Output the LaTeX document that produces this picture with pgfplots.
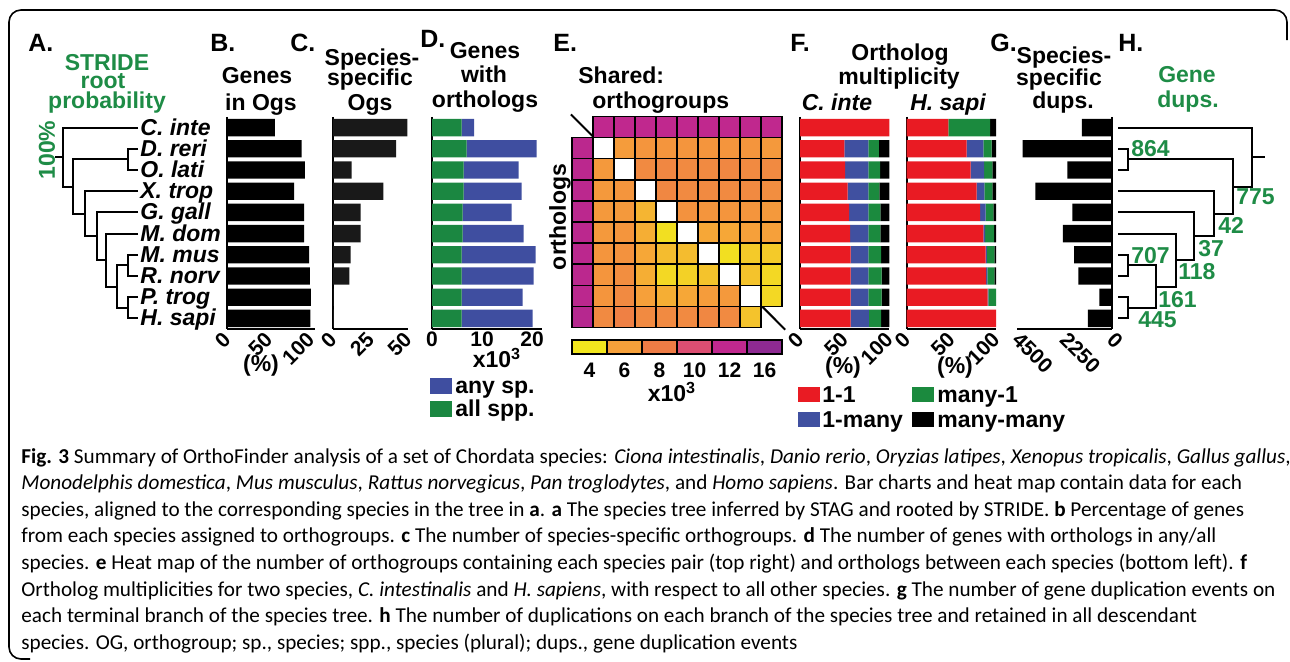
\documentclass[border=0pt]{standalone}
\usepackage{pgfplots}
\pgfplotsset{compat=1.18}
\usepackage{fontspec}
\setmainfont{Liberation Sans}
\newfontfamily\capfont{Carlito}
\newcommand{\tf}{\bfseries\fontsize{11.5}{13}\selectfont}
\newcommand{\kf}{\bfseries\fontsize{10.5}{12}\selectfont}
\newcommand{\lf}{\bfseries\fontsize{12.5}{14}\selectfont}
\newcommand{\itf}{\bfseries\itshape\fontsize{11.5}{13}\selectfont}
\newcommand{\cf}{\capfont\fontsize{10.6}{12}\selectfont}
\definecolor{tgreen}{RGB}{30,140,70}
\definecolor{bblue}{RGB}{63,78,160}
\definecolor{bgreen}{RGB}{27,135,65}
\definecolor{fred}{RGB}{233,27,35}
\definecolor{fblue}{RGB}{64,80,160}
\definecolor{fgreen}{RGB}{27,138,62}
\definecolor{h1}{RGB}{242,230,30}
\definecolor{h2}{RGB}{246,160,58}
\definecolor{h3}{RGB}{238,124,69}
\definecolor{h4}{RGB}{221,78,114}
\definecolor{h5}{RGB}{192,40,142}
\definecolor{h6}{RGB}{142,42,146}
\pgfplotsset{
 barax/.style={anchor=north west, scale only axis, height=106pt,
   ymin=-0.5, ymax=9.5, y dir=reverse, ytick=\empty,
   axis x line*=bottom, axis y line*=left,
   axis line style={line width=1pt,-},
   xbar stacked, bar width=0.82,
   xtick style={draw=none}, clip=false},
 rot/.style={xticklabel style={xshift=0pt, yshift=-3.5pt, rotate=45, anchor=east, inner sep=0pt, font=\kf}},
}
\begin{document}
\begin{tikzpicture}
% ---------------- overlay axis (pixel coordinates) ----------------
\begin{axis}[at={(0pt,0pt)}, anchor=north west, scale only axis, width=645pt, height=331pt,
  xmin=0, xmax=1290, ymin=0, ymax=662, y dir=reverse, axis lines=none, clip=false]
% frame
\draw[line width=0.8pt, rounded corners=6pt] (axis cs:30,659) -- (axis cs:9,659) -- (axis cs:9,10) -- (axis cs:1287,10) -- (axis cs:1287,40);
% tree A
\addplot[black, line width=1pt] coordinates {(138,148.7) (128,148.7) (128,169.9) (138,169.9)};
\addplot[black, line width=1pt] coordinates {(138,254.7) (128,254.7) (128,275.9) (138,275.9)};
\addplot[black, line width=1pt] coordinates {(138,297.1) (128,297.1) (128,318.3) (138,318.3)};
\addplot[black, line width=1pt] coordinates {(128,265.3) (117,265.3) (117,307.7) (128,307.7)};
\addplot[black, line width=1pt] coordinates {(138,233.5) (106,233.5) (106,286.5) (117,286.5)};
\addplot[black, line width=1pt] coordinates {(138,212.3) (97,212.3) (97,260) (106,260)};
\addplot[black, line width=1pt] coordinates {(138,191.1) (85,191.1) (85,236.2) (97,236.2)};
\addplot[black, line width=1pt] coordinates {(128,159.3) (73,159.3) (73,213.6) (85,213.6)};
\addplot[black, line width=1pt] coordinates {(138,127.5) (63,127.5) (63,186.5) (73,186.5)};
\addplot[black, line width=1pt] coordinates {(63,157) (55,157)};
% tree H
\addplot[black, line width=1pt] coordinates {(1118,148.7) (1128,148.7) (1128,169.9) (1118,169.9)};
\addplot[black, line width=1pt] coordinates {(1118,254.7) (1128,254.7) (1128,275.9) (1118,275.9)};
\addplot[black, line width=1pt] coordinates {(1118,297.1) (1128,297.1) (1128,318.3) (1118,318.3)};
\addplot[black, line width=1pt] coordinates {(1128,265.3) (1156,265.3) (1156,307.7) (1128,307.7)};
\addplot[black, line width=1pt] coordinates {(1118,233.5) (1176,233.5) (1176,286.5) (1156,286.5)};
\addplot[black, line width=1pt] coordinates {(1118,212.3) (1194,212.3) (1194,260) (1176,260)};
\addplot[black, line width=1pt] coordinates {(1118,191.1) (1214,191.1) (1214,236.2) (1194,236.2)};
\addplot[black, line width=1pt] coordinates {(1128,159.3) (1233,159.3) (1233,213.6) (1214,213.6)};
\addplot[black, line width=1pt] coordinates {(1118,127.5) (1252,127.5) (1252,186.5) (1233,186.5)};
\addplot[black, line width=1pt] coordinates {(1252,157) (1265,157)};
% H numbers
\begin{scope}[every node/.style={font=\tf, text=tgreen, anchor=base west, inner sep=0pt}]
\node at (axis cs:1131,156) {864};
\node at (axis cs:1236,204) {775};
\node at (axis cs:1218,233) {42};
\node at (axis cs:1198,256) {37};
\node at (axis cs:1178,279) {118};
\node at (axis cs:1131,263) {707};
\node at (axis cs:1158,307) {161};
\node at (axis cs:1138,327) {445};
\end{scope}
% panel letters
\begin{scope}[every node/.style={font=\lf, anchor=base west, inner sep=0pt}]
\node at (axis cs:28,51) {A.};
\node at (axis cs:210,51) {B.};
\node at (axis cs:290,51) {C.};
\node at (axis cs:420,47) {D.};
\node at (axis cs:553,51) {E.};
\node at (axis cs:790,51) {F.};
\node at (axis cs:990,51) {G.};
\node at (axis cs:1118,51) {H.};
\end{scope}
% titles
\begin{scope}[every node/.style={font=\tf, anchor=base, inner sep=0pt}]
\node[text=tgreen] at (axis cs:107,70) {STRIDE};
\node[text=tgreen] at (axis cs:103,88) {root};
\node[text=tgreen] at (axis cs:107,108) {probability};
\node[text=tgreen, rotate=90, anchor=center] at (axis cs:47,150) {100\%};
\node at (axis cs:257,83) {Genes};
\node at (axis cs:261,110) {in Ogs};
\node at (axis cs:372,65) {Species-};
\node at (axis cs:370,85) {specific};
\node at (axis cs:370,110) {Ogs};
\node at (axis cs:485,58) {Genes};
\node at (axis cs:484,82) {with};
\node at (axis cs:485,107) {orthologs};
\node[anchor=base west] at (axis cs:578,83) {Shared:};
\node[anchor=base west] at (axis cs:592,108) {orthogroups};
\node[rotate=90, anchor=center] at (axis cs:560,217) {orthologs};
\node at (axis cs:900,60) {Ortholog};
\node at (axis cs:899,84) {multiplicity};
\node[font=\itf] at (axis cs:837,110) {C. inte};
\node[font=\itf] at (axis cs:948,110) {H. sapi};
\node at (axis cs:1064,63) {Species-};
\node at (axis cs:1059,85) {specific};
\node at (axis cs:1063,108) {dups.};
\node[text=tgreen] at (axis cs:1187,82) {Gene};
\node[text=tgreen] at (axis cs:1188,107) {dups.};
% axis extras
\node[anchor=center] at (axis cs:261,366) {(\%)};
\node[anchor=center] at (axis cs:843,368) {(\%)};
\node[anchor=center] at (axis cs:955,368) {(\%)};
\node[anchor=center] at (axis cs:497,358) {x10\textsuperscript{3}};
\node[anchor=center] at (axis cs:672,392) {x10\textsuperscript{3}};
\node[font=\kf] at (axis cs:589.5,377) {4};
\node[font=\kf] at (axis cs:624.5,377) {6};
\node[font=\kf] at (axis cs:659.5,377) {8};
\node[font=\kf] at (axis cs:694.5,377) {10};
\node[font=\kf] at (axis cs:729.5,377) {12};
\node[font=\kf] at (axis cs:764.5,377) {16};
% legends
\node[anchor=base west] at (axis cs:455,393) {any sp.};
\node[anchor=base west] at (axis cs:455,416) {all spp.};
\node[anchor=base west] at (axis cs:822,402) {1-1};
\node[anchor=base west] at (axis cs:937,402) {many-1};
\node[anchor=base west] at (axis cs:822,427) {1-many};
\node[anchor=base west] at (axis cs:937,427) {many-many};
\end{scope}
\fill[bblue] (axis cs:430,378) rectangle (axis cs:452,394);
\fill[bgreen] (axis cs:430,401) rectangle (axis cs:452,417);
\fill[fred] (axis cs:798,387) rectangle (axis cs:820,402);
\fill[fgreen] (axis cs:912,387) rectangle (axis cs:934,402);
\fill[fblue] (axis cs:798,412) rectangle (axis cs:820,427);
\fill[black] (axis cs:912,412) rectangle (axis cs:934,427);
% species labels
\begin{scope}[every node/.style={font=\itf, anchor=base west, inner sep=0pt}]
\node at (axis cs:140,135) {C. inte};
\node at (axis cs:140,156.2) {D. reri};
\node at (axis cs:140,177.4) {O. lati};
\node at (axis cs:140,198.6) {X. trop};
\node at (axis cs:140,219.8) {G. gall};
\node at (axis cs:140,241) {M. dom};
\node at (axis cs:140,262.2) {M. mus};
\node at (axis cs:140,283.4) {R. norv};
\node at (axis cs:140,304.6) {P. trog};
\node at (axis cs:140,325.8) {H. sapi};
\end{scope}
% caption
\begin{scope}[every node/.style={font=\cf, anchor=base west, inner sep=0pt}]
\node at (axis cs:21,463) {\textbf{Fig. 3} Summary of OrthoFinder analysis of a set of Chordata species: \textit{Ciona intestinalis}, \textit{Danio rerio}, \textit{Oryzias latipes}, \textit{Xenopus tropicalis}, \textit{Gallus gallus},};
\node at (axis cs:21,489.6) {\textit{Monodelphis domestica}, \textit{Mus musculus}, \textit{Rattus norvegicus}, \textit{Pan troglodytes}, and \textit{Homo sapiens}. Bar charts and heat map contain data for each};
\node at (axis cs:21,516.2) {species, aligned to the corresponding species in the tree in \textbf{a}. \textbf{a} The species tree inferred by STAG and rooted by STRIDE. \textbf{b} Percentage of genes};
\node at (axis cs:21,542.8) {from each species assigned to orthogroups. \textbf{c} The number of species-specific orthogroups. \textbf{d} The number of genes with orthologs in any/all};
\node at (axis cs:21,569.4) {species. \textbf{e} Heat map of the number of orthogroups containing each species pair (top right) and orthologs between each species (bottom left). \textbf{f}};
\node at (axis cs:21,596) {Ortholog multiplicities for two species, \textit{C. intestinalis} and \textit{H. sapiens}, with respect to all other species. \textbf{g} The number of gene duplication events on};
\node at (axis cs:21,622.6) {each terminal branch of the species tree. \textbf{h} The number of duplications on each branch of the species tree and retained in all descendant};
\node at (axis cs:21,649.2) {species. OG, orthogroup; sp., species; spp., species (plural); dups., gene duplication events};
\end{scope}
\end{axis}
% ---------------- B ----------------
\begin{axis}[barax, rot, at={(113.5pt,-58.5pt)}, width=44pt, xmin=0, xmax=105,
  xtick={0,50,100}, xticklabels={0,50,100}]
\addplot[fill=black, draw=none] coordinates {(57,0) (89,1) (93,2) (80,3) (92,4) (92,5) (98,6) (99,7) (100,8) (99.6,9)};
\end{axis}
% ---------------- C ----------------
\begin{axis}[barax, rot, at={(166.5pt,-58.5pt)}, width=37.5pt, xmin=0, xmax=50,
  xtick={0,25,50}, xticklabels={0,25,50}]
\addplot[fill=black!90, draw=none] coordinates {(49.5,0) (42,1) (12.4,2) (33.5,3) (18.4,4) (18.4,5) (11.8,6) (10.9,7) (0.4,8) (0.6,9)};
\end{axis}
% ---------------- D ----------------
\begin{axis}[barax, at={(216pt,-58.5pt)}, width=55pt, xmin=0, xmax=22,
  xtick={0,10,20}, xticklabels={0,10,20}, xticklabel style={font=\kf, inner sep=1pt}]
\addplot[fill=bgreen, draw=none] coordinates {(5.9,0) (6.9,1) (6.3,2) (6.3,3) (6.1,4) (6.1,5) (5.9,6) (5.9,7) (5.9,8) (5.9,9)};
\addplot[fill=bblue, draw=none] coordinates {(2.5,0) (14.0,1) (11.0,2) (11.6,3) (9.8,4) (12.2,5) (14.8,6) (14.4,7) (12.2,8) (14.2,9)};
\end{axis}
% ---------------- E heat map ----------------
\begin{axis}[at={(286pt,-58.25pt)}, anchor=north west, scale only axis, width=105pt, height=105.5pt,
  xmin=-0.5, xmax=9.5, ymin=-0.5, ymax=9.5, y dir=reverse, axis lines=none, clip=false,
  colormap={hm}{rgb255=(242,230,30) rgb255=(246,160,58) rgb255=(238,124,69) rgb255=(221,78,114) rgb255=(192,40,142) rgb255=(142,42,146)},
  point meta min=1, point meta max=6]
\addplot[only marks, mark=square*, mark size=5.25pt, mark options={fill=white, draw=black, line width=0.7pt}]
  coordinates {(1,1) (2,2) (3,3) (4,4) (5,5) (6,6) (7,7) (8,8)};
\addplot[scatter, only marks, mark=square*, mark size=5.25pt, point meta=explicit,
  scatter/use mapped color={draw=black, fill=mapped color}, mark options={line width=0.7pt}]
  table[meta=v] {
x y v
1 0 5.0
2 0 5.0
3 0 5.0
4 0 5.0
5 0 5.0
6 0 5.0
7 0 5.0
8 0 5.0
9 0 5.0
0 1 5.1
2 1 2.1
3 1 2.3
4 1 2.3
5 1 2.3
6 1 2.3
7 1 2.3
8 1 2.3
9 1 2.2
0 2 5.1
1 2 2.2
3 2 2.6
4 2 2.7
5 2 2.6
6 2 2.6
7 2 2.7
8 2 2.6
9 2 2.6
0 3 5.1
1 3 2.2
2 3 2.3
4 3 2.7
5 3 2.6
6 3 2.6
7 3 2.6
8 3 2.6
9 3 2.5
0 4 5.1
1 4 2.2
2 4 2.2
3 4 1.7
5 4 2.4
6 4 2.3
7 4 2.3
8 4 2.3
9 4 2.2
0 5 5.1
1 5 2.2
2 5 2.3
3 5 1.8
4 5 1.1
6 5 1.9
7 5 1.9
8 5 2.0
9 5 2.0
0 6 5.1
1 6 2.3
2 6 2.4
3 6 1.9
4 6 1.6
5 6 1.6
7 6 1.1
8 6 1.4
9 6 1.4
0 7 5.1
1 7 2.3
2 7 2.5
3 7 1.8
4 7 1.2
5 7 1.3
6 7 1.5
8 7 1.5
9 7 1.2
0 8 5.1
1 8 2.3
2 8 2.6
3 8 2.0
4 8 1.8
5 8 1.9
6 8 2.1
7 8 2.2
9 8 1.2
0 9 5.2
1 9 2.6
2 9 2.9
3 9 2.6
4 9 2.6
5 9 2.6
6 9 2.7
7 9 2.6
8 9 1.5
};
\addplot[black, line width=1pt] coordinates {(-0.55,-0.6) (9.65,9.6)};
\end{axis}
% ---------------- E colour bar ----------------
\begin{axis}[at={(286pt,-170pt)}, anchor=north west, scale only axis, width=105pt, height=7pt,
  xmin=0, xmax=6, ymin=0, ymax=1, axis lines=none, ybar, bar width=1, clip=false]
\addplot[fill=h1, draw=black, line width=0.8pt, bar shift=0pt] coordinates {(0.5,1)};
\addplot[fill=h2, draw=black, line width=0.8pt, bar shift=0pt] coordinates {(1.5,1)};
\addplot[fill=h3, draw=black, line width=0.8pt, bar shift=0pt] coordinates {(2.5,1)};
\addplot[fill=h4, draw=black, line width=0.8pt, bar shift=0pt] coordinates {(3.5,1)};
\addplot[fill=h5, draw=black, line width=0.8pt, bar shift=0pt] coordinates {(4.5,1)};
\addplot[fill=h6, draw=black, line width=0.8pt, bar shift=0pt] coordinates {(5.5,1)};
\end{axis}
% ---------------- F: C. inte ----------------
\begin{axis}[barax, rot, at={(400pt,-58.5pt)}, width=44.65pt, xmin=0, xmax=100,
  xtick={0,50,100}, xticklabels={0,50,100}]
\addplot[fill=fred, draw=none] coordinates {(100,0) (49.6,1) (50.4,2) (53.4,3) (54.9,4) (56.0,5) (56.7,6) (56.7,7) (56.7,8) (56.7,9)};
\addplot[fill=fblue, draw=none] coordinates {(0,0) (26.9,1) (26.1,2) (23.1,3) (21.6,4) (20.5,5) (19.8,6) (19.8,7) (19.8,8) (20.5,9)};
\addplot[fill=fgreen, draw=none] coordinates {(0,0) (11.9,1) (13.1,2) (12.3,3) (13.4,4) (13.4,5) (14.2,6) (14.9,7) (14.9,8) (13.5,9)};
\addplot[fill=black, draw=none] coordinates {(0,0) (11.6,1) (10.4,2) (11.2,3) (10.1,4) (10.1,5) (9.3,6) (8.6,7) (8.6,8) (9.3,9)};
\end{axis}
% ---------------- F: H. sapi ----------------
\begin{axis}[barax, rot, at={(453.35pt,-58.5pt)}, width=44.65pt, xmin=0, xmax=100,
  xtick={0,50,100}, xticklabels={0,50,100}]
\addplot[fill=fred, draw=none] coordinates {(46.6,0) (67.2,1) (71.6,2) (78.4,3) (82.1,4) (85.8,5) (88.4,6) (88.8,7) (90.7,8) (100,9)};
\addplot[fill=fblue, draw=none] coordinates {(0,0) (18.6,1) (15.0,2) (8.5,3) (6.3,4) (1.9,5) (1.5,6) (1.5,7) (0.7,8) (0,9)};
\addplot[fill=fgreen, draw=none] coordinates {(46.7,0) (9.3,1) (9.3,2) (9.0,3) (8.6,4) (10.1,5) (8.2,6) (7.8,7) (8.6,8) (0,9)};
\addplot[fill=black, draw=none] coordinates {(6.7,0) (4.9,1) (4.1,2) (4.1,3) (3.0,4) (2.2,5) (1.9,6) (1.9,7) (0,8) (0,9)};
\end{axis}
% ---------------- G ----------------
\begin{axis}[anchor=north west, scale only axis, height=106pt,
   ymin=-0.5, ymax=9.5, y dir=reverse, ytick=\empty,
   axis x line*=bottom, axis y line*=right,
   axis line style={line width=1pt,-},
   xbar, bar width=0.82, xtick style={draw=none}, clip=false,
   at={(508.5pt,-58.5pt)}, width=47.35pt, xmin=-4500, xmax=0,
   xtick={-4500,-2250,0}, xticklabels={4500,2250,0},
   xticklabel style={xshift=-0.5pt, yshift=-3.5pt, rotate=-45, anchor=west, inner sep=0pt, font=\kf}]
\addplot[fill=black, draw=none] coordinates {(-1421,0) (-4235,1) (-2103,2) (-3633,3) (-1866,4) (-2321,5) (-1786,6) (-1582,7) (-587,8) (-1137,9)};
\end{axis}
\pgfresetboundingbox
\path[use as bounding box] (0pt,0pt) rectangle (645pt,-331pt);
\end{tikzpicture}
\end{document}
